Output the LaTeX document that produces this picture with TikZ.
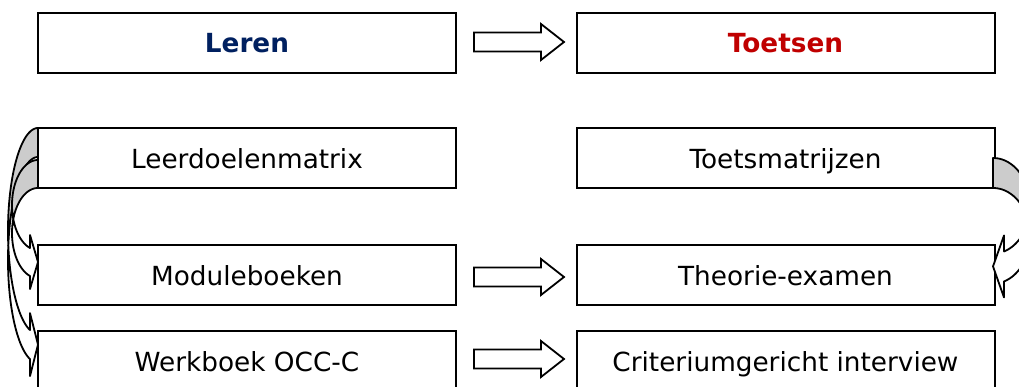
\documentclass[tikz,border=0pt]{standalone}
\usepackage{fontspec}
\setmainfont{DejaVu Sans}
\definecolor{lerenblue}{RGB}{0,32,96}
\definecolor{toetsred}{RGB}{192,0,0}
\definecolor{backgray}{RGB}{204,204,204}
\tikzset{
  box/.style={draw=black, line width=2pt, fill=white, minimum width=418pt,
    minimum height=60pt, inner sep=0pt, text height=20pt, text depth=0pt,
    font=\fontsize{26.3}{30}\selectfont},
  curvestyle/.style={draw=black, line width=1.8pt, line join=round},
  blockarrow/.style={draw=black, line width=1.8pt, fill=white, line join=miter},
}
% straight block arrow between two boxes, centred at height #1
\newcommand\blockarr[1]{%
  \filldraw[blockarrow] (474,#1-9.5) -- (541,#1-9.5) -- (541,#1-18) -- (564,#1)
    -- (541,#1+18) -- (541,#1+9.5) -- (474,#1+9.5) -- cycle;}
% curved (twisted band) arrow: #1 box edge x, #2 tail top, #3 thickness,
% #4 horizontal radius, #5 vertical radius, #6 head length, #7 barb extension, #8 side (+1 right, -1 left)
\newcommand\curvarr[8]{%
  \pgfmathsetmacro\cvCyA{#2+#5}%
  \pgfmathsetmacro\cvCyB{#2+#3+#5}%
  \pgfmathsetmacro\cvTc{asin(#3/(2*#5))}%
  \pgfmathsetmacro\cvTb{acos(#6/#4)}%
  \pgfmathsetmacro\cvYA{\cvCyA+#5*sin(\cvTb)}%
  \pgfmathsetmacro\cvYB{\cvCyB+#5*sin(\cvTb)}%
  \pgfmathsetmacro\cvYM{(\cvYA+\cvYB)/2}%
  \pgfmathsetmacro\cvXB{#1+#8*#6}%
  \filldraw[curvestyle, fill=backgray]
    plot[domain=-90:\cvTc, samples=60] ({#1+#8*#4*cos(\x)},{\cvCyA+#5*sin(\x)})
    -- plot[domain=-\cvTc:-90, samples=60] ({#1+#8*#4*cos(\x)},{\cvCyB+#5*sin(\x)}) -- cycle;
  \filldraw[curvestyle, fill=white]
    plot[domain=-\cvTc:\cvTb, samples=60] ({#1+#8*#4*cos(\x)},{\cvCyB+#5*sin(\x)})
    -- (\cvXB,\cvYB+#7) -- (#1,\cvYM) -- (\cvXB,\cvYA-#7) -- (\cvXB,\cvYA)
    -- plot[domain=\cvTb:\cvTc, samples=60] ({#1+#8*#4*cos(\x)},{\cvCyA+#5*sin(\x)}) -- cycle;
}
\begin{document}
\begin{tikzpicture}[x=1pt,y=-1pt]
\useasboundingbox (0,0) rectangle (1019,387);
\clip (0,0) rectangle (1019,387);
\node[box] (leren)   at (247,43)    {\textbf{\textcolor{lerenblue}{Leren}}};
\node[box] (toetsen) at (785.5,43)  {\textbf{\textcolor{toetsred}{Toetsen}}};
\node[box] (leerdoel) at (247,158.5)  {Leerdoelenmatrix};
\node[box] (toetsm)   at (785.5,158.5) {Toetsmatrijzen};
\node[box] (module)   at (247,275)    {Moduleboeken};
\node[box] (theorie)  at (785.5,275)  {Theorie-examen};
\node[box] (werk)     at (247,361)    {Werkboek OCC-C};
\node[box] (crit)     at (785.5,361)  {Criteriumgericht interview};
% straight block arrows
\blockarr{42}
\blockarr{277}
\blockarr{359}
% curved arrows on the left: Leerdoelenmatrix -> Werkboek, Leerdoelenmatrix -> Moduleboeken
\curvarr{38}{128}{29}{30}{102.9}{8}{17}{-1}
\curvarr{38}{160}{28}{26}{45.1}{8}{13}{-1}
% curved arrow on the right: Toetsmatrijzen -> Theorie-examen
\curvarr{993}{158}{30}{37}{47.8}{11}{16}{1}
\end{tikzpicture}
\end{document}
